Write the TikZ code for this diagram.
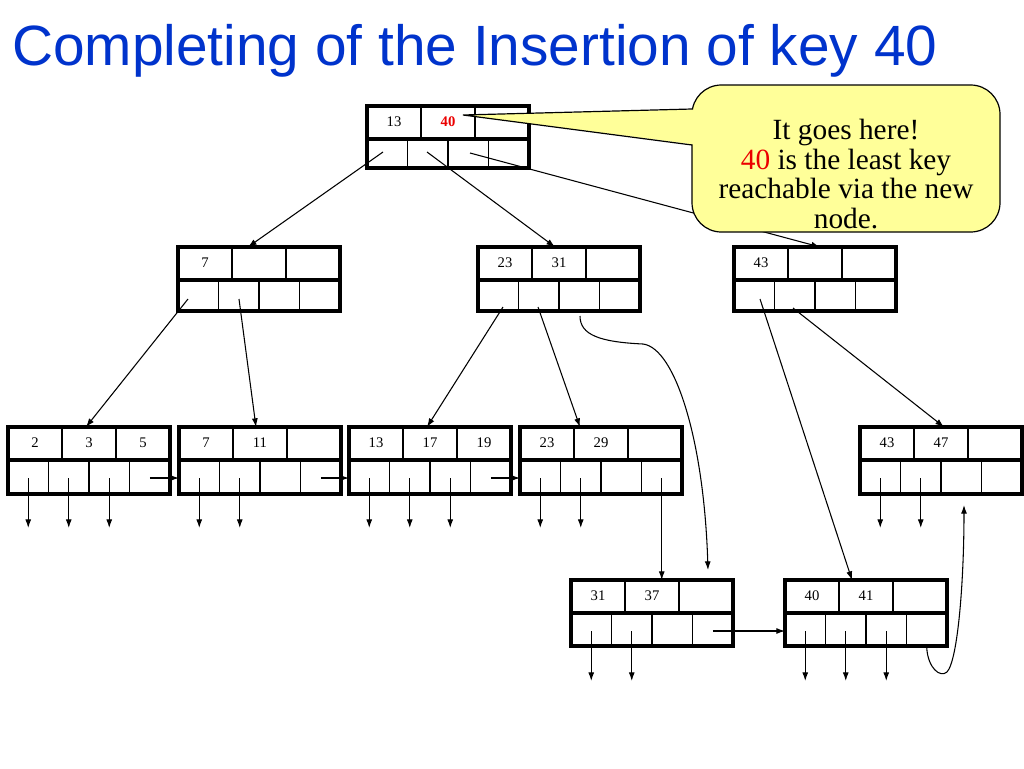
\documentclass[tikz,border=0pt]{standalone}
\usepackage{fontspec}
\setmainfont{Liberation Serif}
\newfontfamily\titlefont{Liberation Sans}
\usetikzlibrary{calc,arrows.meta}
\definecolor{titleblue}{RGB}{0,51,204}
\definecolor{callyellow}{RGB}{255,255,153}
\definecolor{keyred}{RGB}{235,0,0}
\tikzset{
  btbox/.style={draw, line width=2.3pt, minimum width=121.5pt, inner sep=0pt, outer sep=0pt},
  thinline/.style={line width=0.8pt},
  sepline/.style={line width=3pt},
  keytext/.style={font=\fontsize{11}{12}\selectfont, inner sep=0pt},
  ptr/.style={line width=0.8pt, -{Latex[length=6.5pt,width=4.5pt]}},
  curveptr/.style={line width=0.8pt, -{Latex[length=6.5pt,width=4.5pt]}},
}
% name, x, y, height, k1, k2, k3
\newcommand\btn[7]{%
  \node[btbox, minimum height=#4*0.75pt] (#1) at (#2+81,#3+#4/2) {};
  \draw[thinline] (#2+54,#3) -- (#2+54,#3+31);
  \draw[thinline] (#2+108,#3) -- (#2+108,#3+31);
  \draw[sepline] (#2,#3+32.5) -- (#2+162,#3+32.5);
  \foreach \i in {1,2,3} {\draw[thinline] (#2+40.5*\i,#3+34) -- (#2+40.5*\i,#3+#4);}
  \node[keytext] (#1-k1) at (#2+27,#3+16) {#5};
  \node[keytext] (#1-k2) at (#2+81,#3+16) {#6};
  \node[keytext] (#1-k3) at (#2+135,#3+16) {#7};
  \foreach \i in {1,...,4} {\coordinate (#1-p\i) at (#2+40.5*\i-20.25,#3+51);}
}
\begin{document}
\begin{tikzpicture}[x=0.75pt,y=-0.75pt]
\useasboundingbox (0,0) rectangle (1024,768);
\fill[white] (0,0) rectangle (1024,768);

\node[anchor=base west, font=\titlefont\fontsize{42.6}{50}\selectfont, text=titleblue, inner sep=0pt] (title) at (12,65) {Completing of the Insertion of key 40};

% B+ tree nodes
\btn{root}{367}{106}{62}{13}{\textcolor{keyred}{\bfseries 40}}{}
\btn{n7}{178}{247}{64}{7}{}{}
\btn{n23}{478}{247}{64}{23}{31}{}
\btn{n43}{734}{247}{64}{43}{}{}
\btn{l1}{8}{427}{67}{2}{3}{5}
\btn{l2}{179}{427}{67}{7}{11}{}
\btn{l3}{349}{427}{67}{13}{17}{19}
\btn{l4}{520}{427}{67}{23}{29}{}
\btn{l5}{860}{427}{67}{43}{47}{}
\btn{l6}{571}{580}{66}{31}{37}{}
\btn{l7}{785}{580}{66}{40}{41}{}

% root pointers
\draw[ptr] ($(root.north west)+(16,46)$) -- ($(n7.north west)+(70,0)$);
\draw[ptr] ($(root.north west)+(60,46)$) -- ($(n23.north west)+(77,0)$);
\draw[ptr] ($(root.north west)+(103,47)$) -- ($(n43.north west)+(86,0)$);

% level-2 pointers
\draw[ptr] ($(n7.north west)+(10,52)$) -- ($(l1.north west)+(78,0)$);
\draw[ptr] ($(n7.north west)+(61,52)$) -- ($(l2.north west)+(77,0)$);
\draw[ptr] ($(n23.north west)+(25,60)$) -- ($(l3.north west)+(78,0)$);
\draw[ptr] ($(n23.north west)+(60,60)$) -- ($(l4.north west)+(60,0)$);
\coordinate (l6-in) at ($(l6.north west)+(137,-10)$);
\draw[curveptr] ($(n23.north west)+(102,69)$) .. controls (580,335) and (600,342) .. (643,344)
   .. controls (675,348) and (704,440) .. (l6-in);
\draw[ptr] ($(n43.north west)+(26,52)$) -- ($(l7.north west)+(67,0)$);
\draw[ptr] ($(n43.north west)+(59,61)$) -- ($(l5.north west)+(84,0)$);

% leaf down pointers
\foreach \p in {l1-p1,l1-p2,l1-p3,l2-p1,l2-p2,l3-p1,l3-p2,l3-p3,l4-p1,l4-p2,l5-p1,l5-p2,l6-p1,l6-p2,l7-p1,l7-p2,l7-p3}
  {\draw[ptr] (\p) -- ++(0,50);}

% sibling links
\draw[ptr] (l1-p4) -- (l1-p4 -| l2.west);
\draw[ptr] (l2-p4) -- (l2-p4 -| l3.west);
\draw[ptr] (l3-p4) -- (l3-p4 -| l4.west);
\draw[ptr] (l6-p4) -- (l6-p4 -| l7.west);
\draw[ptr] (l4-p4) -- (l4-p4 |- l6.north);
\coordinate (l5-in) at ($(l5.north west)+(104,78)$);
\draw[curveptr] ($(l7-p4)+(0,17)$) .. controls (928,668) and (940,678) .. (947,672)
   .. controls (958,660) and (964,580) .. (l5-in);

% callout
\draw[fill=callyellow, line width=0.9pt, rounded corners=22pt] (692,85) rectangle (1000,232);
\fill[callyellow] (694,109.5) -- (463,115) -- (694,144.5) -- cycle;
\draw[line width=0.9pt] (692,109) -- (463,115) -- (692,145);
\node[align=center, font=\fontsize{22}{22.2}\selectfont, inner sep=0pt] (ctext) at (846,174)
  {It goes here!\\ \textcolor{keyred}{40} is the least key\\ reachable via the new\\ node.};
\end{tikzpicture}
\end{document}
